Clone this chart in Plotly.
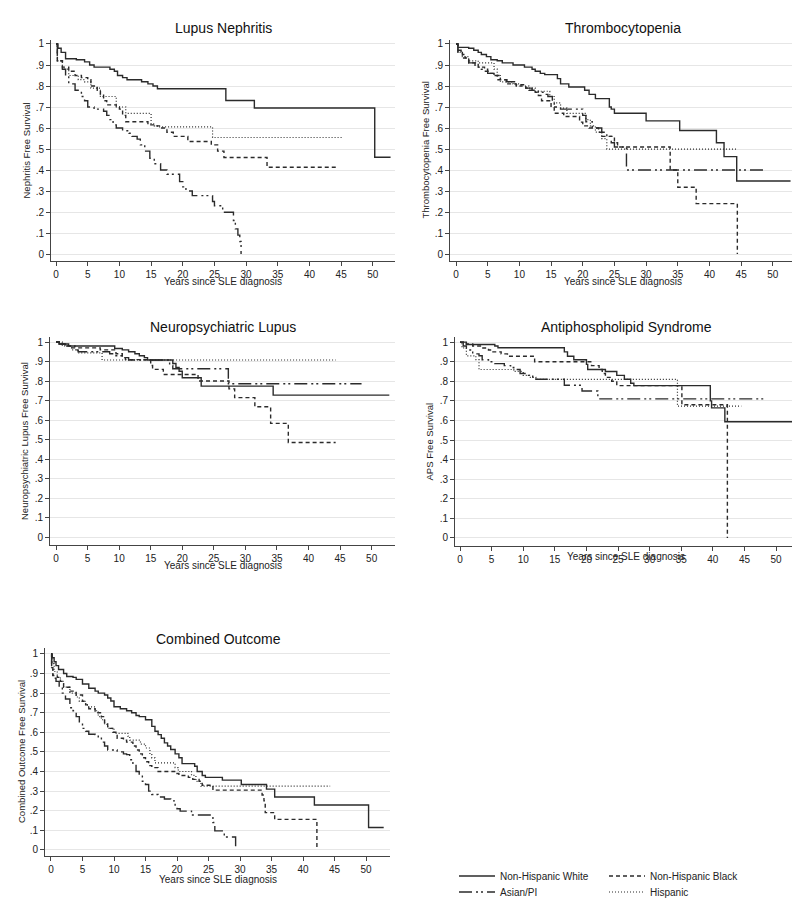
import plotly.graph_objects as go

# ---------------- data (Kaplan-Meier step points) ----------------
groups = ["Non-Hispanic White", "Non-Hispanic Black", "Asian/PI", "Hispanic"]
panel_titles = ["Lupus Nephritis", "Thrombocytopenia", "Neuropsychiatric Lupus",
                "Antiphospholipid Syndrome", "Combined Outcome"]
y_titles = ["Nephritis Free Survival", "Thrombocytopenia Free Survival",
            "Neuropsychiatric Lupus Free Survival", "APS Free Survival",
            "Combined Outcome Free Survival"]
x_title = "Years since SLE diagnosis"
x_ticks = [0, 5, 10, 15, 20, 25, 30, 35, 40, 45, 50]
y_tickvals = [0, 0.1, 0.2, 0.3, 0.4, 0.5, 0.6, 0.7, 0.8, 0.9, 1]
y_ticktext = ["0", ".1", ".2", ".3", ".4", ".5", ".6", ".7", ".8", ".9", "1"]

# Lupus Nephritis
ln_nhw_x = [0, 0.3, 0.8, 1.5, 3.2, 4.5, 5.3, 6.0, 8.5, 9.2, 9.7, 10.5, 11.2, 13.5, 14.5, 15.3, 16.0, 26.8, 31.3, 50.3, 52.8]
ln_nhw_y = [1, 0.98, 0.96, 0.93, 0.925, 0.915, 0.90, 0.89, 0.88, 0.87, 0.85, 0.84, 0.83, 0.82, 0.81, 0.80, 0.787, 0.731, 0.695, 0.461, 0.461]
ln_nhb_x = [0, 0.2, 1.0, 2.0, 3.0, 4.0, 5.0, 5.5, 6.5, 7.0, 7.5, 8.0, 9.5, 10.0, 10.5, 11.0, 14.5, 15.5, 16.5, 17.5, 18.5, 20.8, 24.5, 25.5, 26.5, 33.3, 44.6]
ln_nhb_y = [1, 0.92, 0.89, 0.87, 0.85, 0.84, 0.83, 0.80, 0.78, 0.76, 0.73, 0.71, 0.70, 0.69, 0.66, 0.63, 0.615, 0.61, 0.60, 0.58, 0.56, 0.536, 0.52, 0.49, 0.46, 0.413, 0.413]
ln_asn_x = [0, 0.2, 1.0, 1.5, 2.0, 3.0, 4.0, 4.5, 5.0, 6.0, 7.5, 8.0, 8.5, 9.0, 9.5, 10.5, 11.5, 12.0, 12.8, 13.3, 14.0, 14.8, 15.5, 16.5, 17.5, 19.5, 20.0, 20.5, 21.5, 24.7, 25.0, 26.3, 28.0, 28.3, 28.7, 29.0, 29.2]
ln_asn_y = [1, 0.92, 0.88, 0.85, 0.81, 0.78, 0.75, 0.73, 0.70, 0.69, 0.68, 0.66, 0.64, 0.615, 0.60, 0.587, 0.575, 0.56, 0.547, 0.52, 0.49, 0.456, 0.43, 0.40, 0.38, 0.345, 0.32, 0.30, 0.278, 0.25, 0.23, 0.199, 0.16, 0.12, 0.09, 0.06, 0]
ln_his_x = [0, 0.2, 1.0, 2.0, 3.5, 4.5, 5.5, 7.0, 9.5, 11.0, 15.0, 15.5, 16.0, 24.7, 45.3]
ln_his_y = [1, 0.92, 0.88, 0.85, 0.83, 0.82, 0.79, 0.75, 0.70, 0.67, 0.62, 0.61, 0.605, 0.555, 0.555]

# Thrombocytopenia
tp_nhw_x = [0, 0.3, 2.0, 2.8, 3.5, 4.0, 4.8, 5.5, 6.5, 7.3, 9.0, 10.8, 12.0, 12.5, 13.3, 14.0, 16.0, 16.5, 17.8, 20.3, 21.0, 22.0, 24.2, 24.5, 25.0, 30.0, 35.3, 41.1, 42.3, 44.3, 52.8]
tp_nhw_y = [1, 0.984, 0.98, 0.97, 0.96, 0.95, 0.94, 0.925, 0.92, 0.91, 0.90, 0.89, 0.88, 0.87, 0.86, 0.854, 0.835, 0.81, 0.795, 0.78, 0.76, 0.74, 0.70, 0.69, 0.67, 0.634, 0.588, 0.53, 0.464, 0.348, 0.348]
tp_nhb_x = [0, 0.3, 1.0, 2.0, 3.5, 4.5, 5.3, 6.0, 6.5, 8.0, 9.5, 11.0, 11.5, 12.5, 13.0, 13.5, 15.0, 15.5, 17.0, 19.5, 20.0, 21.0, 22.5, 23.0, 25.0, 25.5, 33.8, 35.0, 37.9, 44.4]
tp_nhb_y = [1, 0.96, 0.933, 0.91, 0.89, 0.87, 0.86, 0.85, 0.83, 0.81, 0.806, 0.79, 0.78, 0.77, 0.755, 0.73, 0.70, 0.67, 0.655, 0.628, 0.61, 0.60, 0.58, 0.56, 0.53, 0.51, 0.40, 0.318, 0.24, 0]
tp_asn_x = [0, 0.3, 0.8, 1.5, 2.0, 3.0, 4.0, 5.0, 6.0, 7.0, 8.0, 9.5, 11.0, 12.0, 13.0, 14.0, 14.5, 15.2, 15.5, 16.5, 20.0, 20.5, 21.5, 23.0, 23.8, 24.5, 25.0, 26.9, 48.8]
tp_asn_y = [1, 0.97, 0.95, 0.93, 0.91, 0.89, 0.88, 0.86, 0.85, 0.83, 0.82, 0.80, 0.79, 0.78, 0.77, 0.76, 0.75, 0.73, 0.70, 0.69, 0.66, 0.63, 0.60, 0.58, 0.56, 0.53, 0.51, 0.40, 0.40]
tp_his_x = [0, 0.3, 1.0, 2.0, 3.5, 6.0, 6.5, 7.0, 9.0, 10.0, 11.5, 12.5, 14.8, 15.5, 16.5, 17.5, 20.5, 21.2, 22.0, 23.0, 23.8, 44.5]
tp_his_y = [1, 0.96, 0.94, 0.92, 0.91, 0.88, 0.85, 0.82, 0.81, 0.80, 0.79, 0.775, 0.75, 0.72, 0.695, 0.67, 0.64, 0.61, 0.58, 0.55, 0.50, 0.50]

# Neuropsychiatric Lupus
np_nhw_x = [0, 0.5, 2.0, 9.3, 10.5, 11.5, 12.5, 13.2, 14.0, 14.5, 18.5, 19.0, 19.5, 20.0, 23.0, 34.4, 52.8]
np_nhw_y = [1, 0.99, 0.98, 0.967, 0.96, 0.95, 0.94, 0.93, 0.92, 0.908, 0.89, 0.87, 0.85, 0.817, 0.774, 0.728, 0.728]
np_nhb_x = [0, 0.5, 1.5, 2.5, 7.0, 9.5, 10.5, 11.0, 15.0, 15.3, 17.0, 22.5, 27.4, 28.3, 31.5, 34.0, 36.8, 44.3]
np_nhb_y = [1, 0.99, 0.98, 0.97, 0.96, 0.94, 0.92, 0.91, 0.88, 0.86, 0.834, 0.80, 0.76, 0.715, 0.668, 0.583, 0.485, 0.485]
np_asn_x = [0, 0.5, 1.5, 3.0, 3.5, 8.5, 9.5, 10.5, 11.5, 18.0, 18.5, 27.3, 48.4]
np_asn_y = [1, 0.99, 0.98, 0.96, 0.95, 0.94, 0.93, 0.92, 0.908, 0.88, 0.863, 0.786, 0.786]
np_his_x = [0, 1.0, 2.5, 3.5, 7.3, 44.3]
np_his_y = [1, 0.98, 0.96, 0.945, 0.908, 0.908]

# Antiphospholipid Syndrome
ap_nhw_x = [0, 1.0, 5.5, 6.0, 16.5, 17.0, 18.0, 20.0, 20.2, 23.0, 24.8, 26.0, 27.0, 27.5, 39.6, 39.8, 41.9, 52.7]
ap_nhw_y = [1, 0.988, 0.98, 0.971, 0.95, 0.928, 0.91, 0.886, 0.86, 0.85, 0.83, 0.81, 0.79, 0.778, 0.70, 0.664, 0.593, 0.593]
ap_nhb_x = [0, 1.0, 2.0, 3.5, 4.5, 5.0, 6.5, 7.5, 11.8, 20.8, 22.0, 22.5, 23.0, 24.0, 24.8, 35.1, 42.3]
ap_nhb_y = [1, 0.99, 0.98, 0.97, 0.96, 0.95, 0.94, 0.928, 0.90, 0.88, 0.86, 0.84, 0.82, 0.80, 0.778, 0.68, 0]
ap_asn_x = [0, 0.5, 1.0, 2.0, 3.0, 3.5, 4.5, 5.5, 7.0, 8.0, 8.5, 9.5, 10.5, 11.5, 12.0, 16.5, 19.3, 21.8, 48.5]
ap_asn_y = [1, 0.98, 0.96, 0.94, 0.93, 0.91, 0.90, 0.89, 0.88, 0.87, 0.86, 0.84, 0.83, 0.82, 0.81, 0.78, 0.75, 0.71, 0.71]
ap_his_x = [0, 0.3, 1.0, 2.5, 3.0, 8.5, 10.0, 11.0, 12.0, 34.4, 44.5]
ap_his_y = [1, 0.97, 0.93, 0.91, 0.86, 0.85, 0.83, 0.82, 0.81, 0.673, 0.673]

# Combined Outcome
co_nhw_x = [0, 0.2, 0.5, 0.8, 1.2, 2.0, 2.5, 3.5, 4.0, 5.0, 6.0, 7.0, 7.5, 8.5, 9.0, 9.5, 10.0, 11.0, 12.0, 12.8, 13.5, 14.0, 15.0, 16.0, 16.5, 17.0, 17.5, 18.0, 18.5, 19.0, 19.7, 20.3, 20.8, 22.8, 23.2, 24.0, 24.5, 27.2, 30.2, 34.2, 35.5, 41.8, 50.4, 52.8]
co_nhw_y = [1, 0.98, 0.96, 0.94, 0.92, 0.90, 0.885, 0.88, 0.87, 0.846, 0.825, 0.81, 0.80, 0.79, 0.775, 0.76, 0.73, 0.72, 0.71, 0.70, 0.686, 0.68, 0.664, 0.63, 0.605, 0.588, 0.57, 0.546, 0.53, 0.512, 0.49, 0.47, 0.44, 0.427, 0.40, 0.38, 0.37, 0.356, 0.334, 0.31, 0.27, 0.229, 0.114, 0.114]
co_nhb_x = [0, 0.1, 0.3, 1.0, 1.5, 2.0, 3.0, 4.0, 5.0, 5.5, 6.0, 7.0, 8.0, 8.5, 9.0, 9.8, 10.5, 11.5, 12.0, 13.0, 13.5, 14.0, 14.5, 15.0, 15.5, 16.0, 17.0, 20.0, 20.3, 21.8, 22.5, 23.5, 24.0, 25.7, 33.5, 33.8, 34.0, 35.5, 42.2]
co_nhb_y = [1, 0.93, 0.89, 0.88, 0.86, 0.83, 0.81, 0.79, 0.758, 0.74, 0.72, 0.70, 0.68, 0.65, 0.62, 0.60, 0.57, 0.56, 0.55, 0.53, 0.51, 0.49, 0.47, 0.45, 0.43, 0.42, 0.40, 0.39, 0.38, 0.37, 0.36, 0.35, 0.33, 0.305, 0.28, 0.25, 0.19, 0.156, 0]
co_asn_x = [0, 0.1, 0.3, 0.8, 1.3, 1.8, 2.3, 3.0, 3.5, 4.0, 4.5, 5.0, 5.5, 6.0, 7.0, 7.5, 8.0, 8.5, 9.0, 10.5, 11.5, 12.0, 12.5, 13.0, 13.5, 14.0, 14.5, 15.0, 15.5, 16.0, 17.0, 18.0, 19.0, 19.7, 20.0, 20.5, 22.3, 25.7, 26.0, 27.5, 29.3]
co_asn_y = [1, 0.93, 0.876, 0.86, 0.83, 0.80, 0.77, 0.725, 0.71, 0.68, 0.648, 0.62, 0.605, 0.59, 0.588, 0.57, 0.55, 0.53, 0.51, 0.50, 0.49, 0.486, 0.46, 0.435, 0.40, 0.376, 0.35, 0.334, 0.30, 0.283, 0.27, 0.26, 0.25, 0.229, 0.21, 0.198, 0.178, 0.14, 0.097, 0.066, 0]
co_his_x = [0, 0.2, 0.5, 1.0, 1.5, 2.0, 3.0, 4.0, 4.5, 5.5, 6.0, 7.0, 7.5, 8.0, 8.5, 9.0, 10.0, 12.2, 12.5, 14.2, 15.0, 15.7, 16.0, 16.5, 19.7, 20.2, 22.3, 23.0, 23.8, 44.3]
co_his_y = [1, 0.95, 0.91, 0.88, 0.86, 0.83, 0.80, 0.78, 0.758, 0.74, 0.73, 0.71, 0.68, 0.664, 0.64, 0.62, 0.595, 0.58, 0.56, 0.54, 0.52, 0.486, 0.47, 0.444, 0.42, 0.40, 0.38, 0.35, 0.325, 0.325]

panels = [
    [(ln_nhw_x, ln_nhw_y), (ln_nhb_x, ln_nhb_y), (ln_asn_x, ln_asn_y), (ln_his_x, ln_his_y)],
    [(tp_nhw_x, tp_nhw_y), (tp_nhb_x, tp_nhb_y), (tp_asn_x, tp_asn_y), (tp_his_x, tp_his_y)],
    [(np_nhw_x, np_nhw_y), (np_nhb_x, np_nhb_y), (np_asn_x, np_asn_y), (np_his_x, np_his_y)],
    [(ap_nhw_x, ap_nhw_y), (ap_nhb_x, ap_nhb_y), (ap_asn_x, ap_asn_y), (ap_his_x, ap_his_y)],
    [(co_nhw_x, co_nhw_y), (co_nhb_x, co_nhb_y), (co_asn_x, co_asn_y), (co_his_x, co_his_y)],
]

# ---------------- styling / layout ----------------
W, H = 800, 902
line_color = "#2b2b2b"
dashes = ["solid", "4px,3px", "13px,4px,2px,3px,2px,4px", "1px,2px"]
widths = [1.4, 1.4, 1.4, 1.2]
FONT = "Liberation Sans, Arial, sans-serif"

# pixel geometry of each plot: (left, right, top, bottom, xmin, xmax, ymin, ymax)
geom = [
    (43, 387, 32, 253, -0.8, 53.5, -0.033, 1.019),
    (442, 787, 32, 253, -0.95, 53.5, -0.033, 1.019),
    (42, 387, 329, 537, -0.95, 53.7, -0.041, 1.026),
    (447, 787, 329, 538, -0.8, 53.0, -0.041, 1.026),
    (37, 382, 640, 848, -0.95, 53.8, -0.031, 1.03),
]
title_pos = [(215, 20), (615, 20), (215, 319), (618, 319), (210, 631)]
xlab_pos = [(215, 274), (615, 274), (215, 557), (618, 548), (210, 871)]
ylab_x = [18, 417, 17, 421, 13]
# legend item anchors (pixels): one legend box per group
legend_pos = [(446, 868), (596, 868), (446, 884), (596, 884)]
legend_ids = ["legend", "legend2", "legend3", "legend4"]

fig = go.Figure()
layout = dict(
    width=W, height=H, margin=dict(l=0, r=0, t=0, b=0, autoexpand=False),
    paper_bgcolor="white", plot_bgcolor="white",
    font=dict(family=FONT, color="#222", size=10),
    showlegend=True,
)
for g, lid in enumerate(legend_ids):
    lx, ly = legend_pos[g]
    layout[lid] = dict(x=lx / W, y=1 - ly / H, xanchor="left", yanchor="middle",
                       orientation="h", font=dict(size=10, color="#222"),
                       bgcolor="rgba(0,0,0,0)", itemwidth=36, borderwidth=0)
annotations = []

for p, series in enumerate(panels):
    ax = "" if p == 0 else str(p + 1)
    l, r, t, b, x0, x1, y0, y1 = geom[p]
    for g, (xs, ys) in enumerate(series):
        fig.add_trace(go.Scatter(
            x=xs, y=ys, mode="lines", line_shape="hv",
            line=dict(color=line_color, width=widths[g], dash=dashes[g]),
            name=groups[g], legend=legend_ids[g], showlegend=(p == 0),
            xaxis="x" + ax, yaxis="y" + ax, hoverinfo="skip",
        ))
    layout["xaxis" + ax] = dict(
        domain=[l / W, r / W], anchor="y" + ax, range=[x0, x1],
        tickvals=x_ticks, ticks="outside", ticklen=4, tickcolor="#444",
        showline=True, linecolor="#444", linewidth=1, showgrid=False, zeroline=False,
        tickfont=dict(size=10, color="#222"), fixedrange=True,
    )
    layout["yaxis" + ax] = dict(
        domain=[1 - b / H, 1 - t / H], anchor="x" + ax, range=[y0, y1],
        tickvals=y_tickvals, ticktext=y_ticktext, ticks="outside", ticklen=4,
        tickcolor="#444", showline=True, linecolor="#444", linewidth=1,
        showgrid=True, gridcolor="#e6e6e6", gridwidth=1, zeroline=False,
        tickfont=dict(size=10, color="#222"), fixedrange=True,
    )
    tx, ty = title_pos[p]
    annotations.append(dict(text=panel_titles[p], x=tx / W, y=1 - ty / H, xref="paper", yref="paper",
                            showarrow=False, font=dict(size=14, color="#111"),
                            xanchor="center", yanchor="middle"))
    lx, ly = xlab_pos[p]
    annotations.append(dict(text=x_title, x=lx / W, y=1 - ly / H, xref="paper", yref="paper",
                            showarrow=False, font=dict(size=10, color="#222"),
                            xanchor="center", yanchor="middle"))
    annotations.append(dict(text=y_titles[p], x=ylab_x[p] / W, y=1 - ((t + b) / 2) / H,
                            xref="paper", yref="paper", textangle=-90, showarrow=False,
                            font=dict(size=9.5, color="#222"), xanchor="center", yanchor="middle"))

layout["annotations"] = annotations
fig.update_layout(**layout)
fig.write_html("out.html")
